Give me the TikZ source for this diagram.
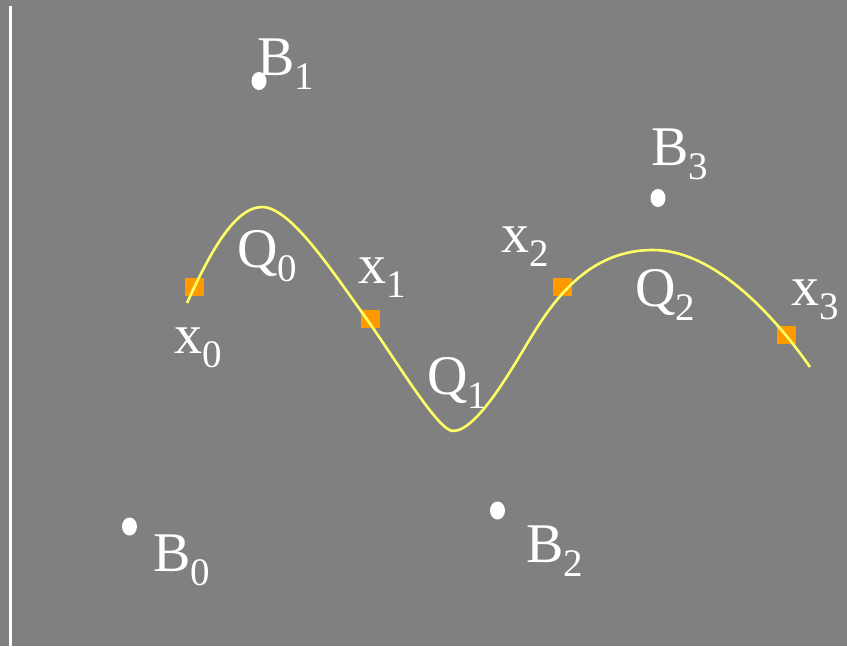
\documentclass[tikz,border=0pt]{standalone}
\usepackage{fontspec}
\setmainfont{Liberation Serif}
\usetikzlibrary{shapes.geometric}
\definecolor{bggray}{HTML}{808080}
\definecolor{knotorange}{HTML}{FF9900}
\definecolor{curveyellow}{HTML}{FFFF66}
\newcommand\mylbl[2]{#1\raisebox{-14pt}{\fontsize{39}{39}\selectfont #2}}
\tikzset{
  lbl/.style={anchor=base west, inner sep=0pt, outer sep=0pt, text=white, font=\fontsize{56}{60}\selectfont},
  ctrlpt/.style={ellipse, fill=white, draw=none, minimum width=15pt, minimum height=18pt, inner sep=0pt},
  knot/.style={rectangle, fill=knotorange, draw=none, minimum size=18.5pt, inner sep=0pt},
  splinecurve/.style={draw=curveyellow, line width=2.6pt},
  axisline/.style={draw=white, line width=3pt}
}
\begin{document}
\begin{tikzpicture}[x=1pt,y=-1pt]
\useasboundingbox (0,0) rectangle (847,646);
\fill[bggray] (0,0) rectangle (847,646);
% left vertical line
\coordinate (ltop) at (10.5,6);
\coordinate (lbot) at (10.5,646);
\draw[axisline] (ltop) -- (lbot);
% control points
\node[ctrlpt] (B0) at (129.5,526.5) {};
\node[ctrlpt] (B1) at (259,81) {};
\node[ctrlpt] (B2) at (497.5,510.5) {};
\node[ctrlpt] (B3) at (658,198) {};
% knots
\node[knot] (x0) at (194.5,287) {};
\node[knot] (x1) at (370.5,319) {};
\node[knot] (x2) at (562.5,287) {};
\node[knot] (x3) at (786.5,335) {};
% curve
\coordinate (c0) at (187,303);
\coordinate (c1) at (262,207);
\coordinate (c2) at (366,318);
\coordinate (c3) at (453,431);
\coordinate (c4) at (533,334);
\coordinate (c5) at (653,250);
\coordinate (c6) at (810,367);
\draw[splinecurve] (c0) .. controls (205,264) and (232,207) .. (c1)
  .. controls (290,207) and (330,268) .. (c2)
  .. controls (396,360) and (438,431) .. (c3)
  .. controls (478,431) and (515,363) .. (c4)
  .. controls (560,290) and (595,250) .. (c5)
  .. controls (715,250) and (775,317) .. (c6);
% labels
\node[lbl] (lB0) at (153,571) {\mylbl{B}{0}};
\node[lbl] (lB1) at (257,75) {\mylbl{B}{1}};
\node[lbl] (lB2) at (526,562) {\mylbl{B}{2}};
\node[lbl] (lB3) at (651,165) {\mylbl{B}{3}};
\node[lbl] (lQ0) at (237,267) {\mylbl{Q}{0}};
\node[lbl] (lQ1) at (427,394) {\mylbl{Q}{1}};
\node[lbl] (lQ2) at (635,306) {\mylbl{Q}{2}};
\node[lbl] (lx0) at (174,353) {\mylbl{x}{0}};
\node[lbl] (lx1) at (358,283) {\mylbl{x}{1}};
\node[lbl] (lx2) at (501,252) {\mylbl{x}{2}};
\node[lbl] (lx3) at (791,305) {\mylbl{x}{3}};
\end{tikzpicture}
\end{document}
